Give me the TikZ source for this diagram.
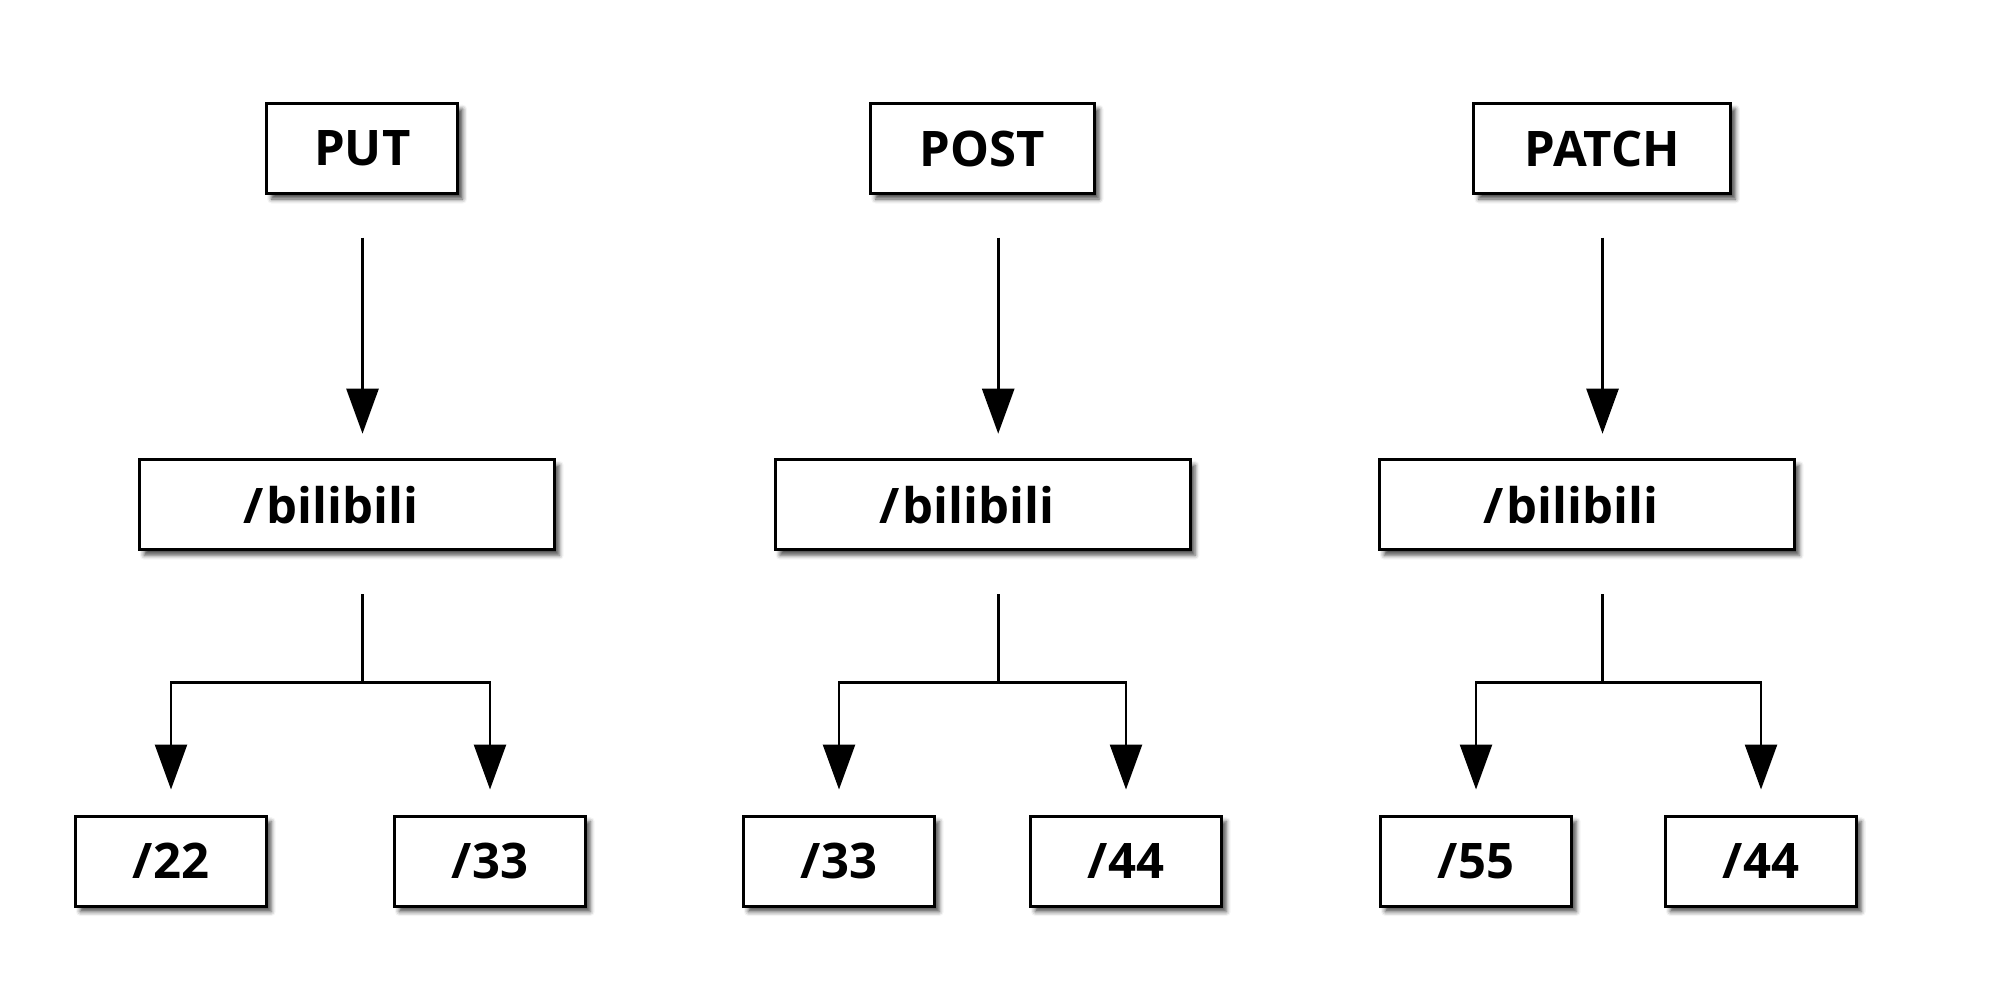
\documentclass[tikz,border=0pt]{standalone}
\usepackage{fontspec}
\setmainfont{Open Sans}
\usetikzlibrary{arrows.meta,shadows.blur}
\begin{document}
\begin{tikzpicture}[x=0.5pt,y=-0.5pt,
  box/.style={draw=black, line width=1.5pt, fill=white, inner sep=0pt,
    minimum height=45pt, font=\fontsize{24.5pt}{28pt}\selectfont\bfseries,
    blur shadow={shadow xshift=2.4pt, shadow yshift=-2.8pt, shadow blur radius=2.2pt, shadow opacity=70}},
  topbox/.style={box},
  midbox/.style={box, minimum width=207.5pt},
  leafbox/.style={box, minimum width=95.5pt},
  link/.style={line width=1.3pt, draw=black},
  arr/.style={link, -{Triangle[length=22.5pt,width=16pt]}}
]
\useasboundingbox (0,0) rectangle (2000,986);

% top row
\node[topbox, minimum width=95.6pt]  (puta)   at (362.3,148.5) {PUT};
\node[topbox, minimum width=111.8pt] (postb)  at (982.5,148.5) {POST};
\node[topbox, minimum width=128.4pt] (patchc) at (1602.3,148.5) {PATCH};

% middle row
\node[midbox] (ba) at (347,504.7)  {\hspace*{-16pt}/\kern1.5pt bilibili};
\node[midbox] (bb) at (982.7,504.7) {\hspace*{-16pt}/\kern1.5pt bilibili};
\node[midbox] (bc) at (1587,504.7)  {\hspace*{-16pt}/\kern1.5pt bilibili};

% bottom row
\node[leafbox] (a1) at (171,861) {/22};
\node[leafbox] (a2) at (490,861) {/33};
\node[leafbox] (b1) at (839,861) {/33};
\node[leafbox] (b2) at (1126,861) {/44};
\node[leafbox] (c1) at (1476,861) {/55};
\node[leafbox] (c2) at (1761,861) {/44};

% top arrows
\draw[arr, shorten <=21.25pt, shorten >=12.25pt] ([xshift=7.75pt]ba.north |- puta.south) -- ([xshift=7.75pt]ba.north);
\draw[arr, shorten <=21.25pt, shorten >=12.25pt] ([xshift=7.75pt]bb.north |- postb.south) -- ([xshift=7.75pt]bb.north);
\draw[arr, shorten <=21.25pt, shorten >=12.25pt] ([xshift=7.75pt]bc.north |- patchc.south) -- ([xshift=7.75pt]bc.north);

% junctions
\coordinate (ja) at ([xshift=7.75pt]ba.south |- 0,682.7);
\coordinate (jb) at ([xshift=7.75pt]bb.south |- 0,682.7);
\coordinate (jc) at ([xshift=7.75pt]bc.south |- 0,682.7);

\draw[link, shorten <=21.5pt] ([xshift=7.75pt]ba.south) -- (ja);
\draw[link, shorten <=21.5pt] ([xshift=7.75pt]bb.south) -- (jb);
\draw[link, shorten <=21.5pt] ([xshift=7.75pt]bc.south) -- (jc);

\draw[arr, shorten >=12.5pt] (ja) -| (a1.north);
\draw[arr, shorten >=12.5pt] (ja) -| (a2.north);
\draw[arr, shorten >=12.5pt] (jb) -| (b1.north);
\draw[arr, shorten >=12.5pt] (jb) -| (b2.north);
\draw[arr, shorten >=12.5pt] (jc) -| (c1.north);
\draw[arr, shorten >=12.5pt] (jc) -| (c2.north);
\end{tikzpicture}
\end{document}
